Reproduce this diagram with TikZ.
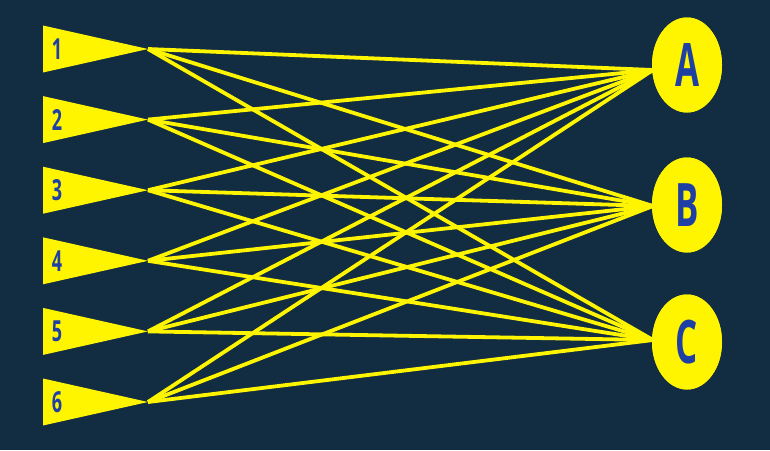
\documentclass[tikz,border=0pt]{standalone}
\usepackage{fontspec}
\setmainfont{Open Sans}
\usetikzlibrary{shapes.geometric}
\definecolor{bg}{HTML}{122C42}
\definecolor{yel}{HTML}{FFF500}
\definecolor{lbl}{HTML}{1E3FA3}
\tikzset{
  link/.style={draw=yel, line width=3.8pt},
  tri/.style={fill=yel},
  numlbl/.style={text=lbl, font=\bfseries\fontsize{29}{29}\selectfont, inner sep=0pt},
  target/.style={ellipse, fill=yel, minimum width=70pt, minimum height=95pt, inner sep=0pt,
    text=lbl, font=\bfseries\fontsize{60}{60}\selectfont},
}
\newcommand{\cond}[1]{\scalebox{0.58}[1]{#1}}
\begin{document}
\begin{tikzpicture}[x=1pt,y=-1pt]
\fill[bg] (0,0) rectangle (770,450);
\useasboundingbox (0,0) rectangle (770,450);
% tips
\foreach \i/\y in {1/49,2/119.6,3/190.2,4/260.8,5/331.4,6/402}{
  \coordinate (t\i) at (148,\y);
}
\node[target] (A) at (687,65) {\cond{A}};
\node[target] (B) at (687,205) {\cond{B}};
\node[target] (C) at (687,342) {\cond{C}};
\coordinate (eA) at (653,70);
\coordinate (eB) at (653,206);
\coordinate (eC) at (653,340);
% links
\foreach \i in {1,...,6}{
  \foreach \e in {eA,eB,eC}{
    \draw[link] (t\i) -- (\e);
  }
}
% triangles and labels
\foreach \i/\y in {1/49,2/119.6,3/190.2,4/260.8,5/331.4,6/402}{
  \fill[tri] (43,\y-23.5) -- (t\i) -- (43,\y+23.5) -- cycle;
  \node[numlbl] (n\i) at (57,\y) {\scalebox{0.62}[1]{\i}};
}
% redraw ellipses on top
\node[target] at (A) {\cond{A}};
\node[target] at (B) {\cond{B}};
\node[target] at (C) {\cond{C}};
\end{tikzpicture}
\end{document}
